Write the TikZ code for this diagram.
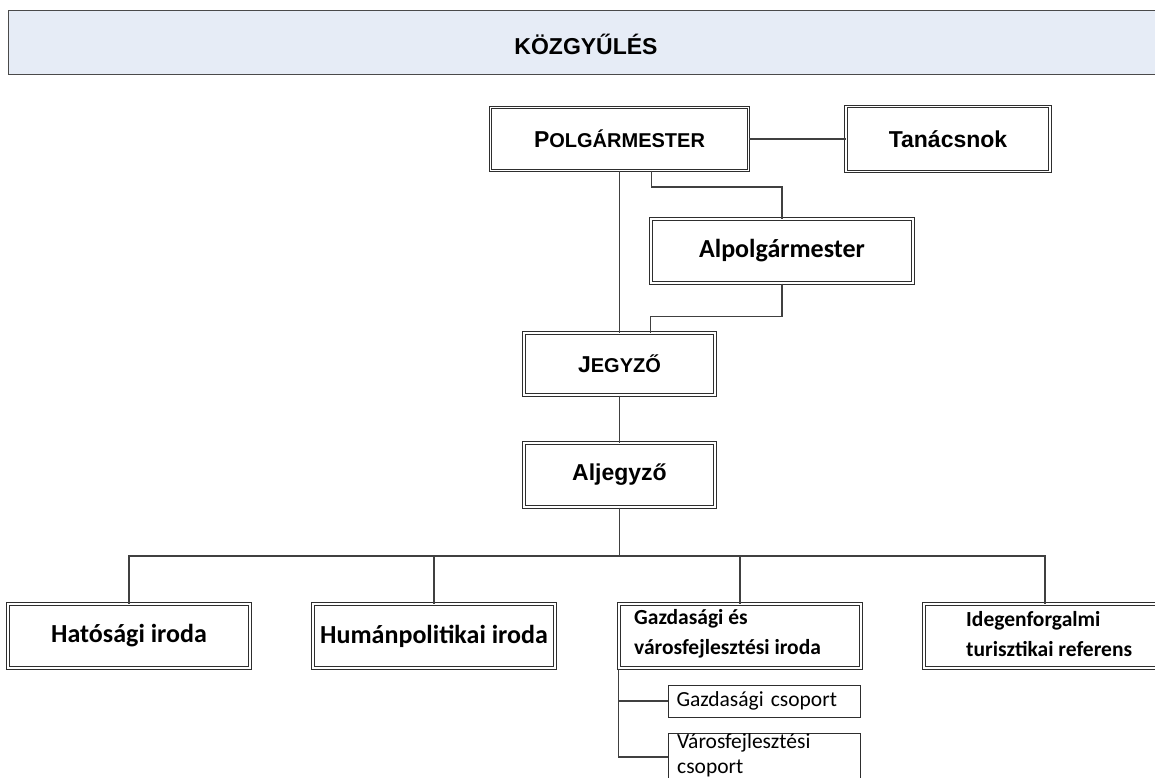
\documentclass[tikz,border=0pt]{standalone}
\usepackage{fontspec}
\newfontfamily\arialf{Liberation Sans}
\newfontfamily\calf{Carlito}
\definecolor{barfill}{HTML}{E6ECF6}
\definecolor{baredge}{HTML}{4A4A4A}
\definecolor{edge}{HTML}{2E2E2E}
\definecolor{wire}{HTML}{404040}
\tikzset{
 dbox/.style={draw=edge, double=white, double distance=1.6pt, line width=1pt, inner sep=0pt, rectangle},
 sbox/.style={draw=edge, line width=1pt, inner sep=0pt, rectangle},
 conn/.style={draw=wire, line width=1.2pt},
 arb/.style={font=\arialf\bfseries\fontsize{23}{26}\selectfont},
 calb/.style={font=\calf\bfseries\fontsize{26}{30}\selectfont},
 cals/.style={font=\calf\bfseries\fontsize{21.5}{30}\selectfont},
 calr/.style={font=\calf\fontsize{21.5}{25}\selectfont},
}
\newcommand{\bigc}[1]{{\fontsize{23}{26}\selectfont #1}}
\newcommand{\smc}[1]{{\fontsize{20}{26}\selectfont #1}}
\begin{document}
\begin{tikzpicture}[x=1pt,y=-1pt]
\useasboundingbox (0,0) rectangle (1155,778);
\clip (0,0) rectangle (1155,778);
% top bar
\node[draw=baredge, line width=1.3pt, fill=barfill, minimum width=1170pt, minimum height=64pt, inner sep=0pt, anchor=north west] (bar) at (8,10) {};
\node[font=\arialf\bfseries\fontsize{23}{26}\selectfont] (kozgy) at (586,44) {KÖZGYŰLÉS};
% upper boxes
\node[dbox, arb, minimum width=258pt, minimum height=63pt] (polg) at (619.5,139) {\bigc{P}\smc{OLGÁRMESTER}};
\node[dbox, arb, minimum width=204pt, minimum height=65pt] (tan) at (948,139) {Tanácsnok};
\node[dbox, calb, minimum width=262pt, minimum height=64pt] (alp) at (782,251) {Alpolgármester};
\node[dbox, arb, minimum width=191pt, minimum height=62pt] (jeg) at (619.5,364) {\bigc{J}\smc{EGYZŐ}};
\node[dbox, arb, minimum width=191pt, minimum height=64pt] (alj) at (619.5,475) {Aljegyző};
% lower boxes
\node[dbox, calb, minimum width=242pt, minimum height=64pt] (hat) at (129,636) {Hatósági iroda};
\node[dbox, calb, minimum width=242pt, minimum height=64pt] (hum) at (434,636) {Humánpolitikai iroda};
\node[dbox, minimum width=242pt, minimum height=64pt] (gaz) at (740,636) {};
\node[cals, align=left, anchor=west, inner sep=0pt] (gazt) at (634,634) {Gazdasági és\\városfejlesztési iroda};
\node[dbox, minimum width=242pt, minimum height=64pt] (ideg) at (1045,636) {};
\node[cals, align=left, anchor=west, inner sep=0pt] (idegt) at (966,634) {Idegenforgalmi\\turisztikai referens};
% sub groups
\node[sbox, calr, minimum width=192pt, minimum height=32pt, text width=175pt, align=left, inner xsep=8.5pt] (gcs) at (764,701) {Gazdasági csoport};
\node[sbox, minimum width=192pt, minimum height=48pt] (vcs) at (764,757) {};
\node[calr, align=left, anchor=north west, inner sep=0pt] (vcst) at (677,733) {Városfejlesztési\\csoport};
% connectors
\coordinate (bus) at (619.5,556);
\draw[conn] (polg) -- (tan);
\draw[conn] (polg.south) -- (jeg.north);
\draw[conn] ([xshift=32pt]polg.south) -- ++(0,16) -| (alp.north);
\draw[conn] (alp.south) -- ++(0,33) -| ([xshift=31pt]jeg.north);
\draw[conn] (jeg.south) -- (alj.north);
\draw[conn] (alj.south) -- (bus);
\draw[conn] (hat.north) |- (bus) -| (ideg.north);
\draw[conn] (hum.north) -- (hum.north |- bus);
\draw[conn] (gaz.north) -- (gaz.north |- bus);
\draw[conn] (gaz.south west) |- (vcs.west);
\draw[conn] (gaz.south west |- gcs.west) -- (gcs.west);
\end{tikzpicture}
\end{document}
